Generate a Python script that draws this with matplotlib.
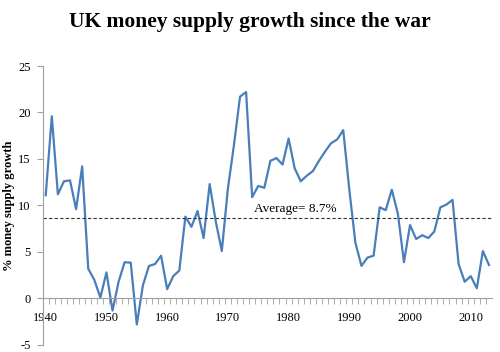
import numpy as np
import matplotlib
matplotlib.use("Agg")
import matplotlib.pyplot as plt

years = np.arange(1940, 2014)
growth = [
    11.1, 19.6, 11.2, 12.6, 12.7, 9.6, 14.2, 3.2, 2.0, 0.1,
    2.8, -1.3, 1.8, 3.9, 3.85, -2.8, 1.4, 3.5, 3.7, 4.6,
    1.0, 2.4, 3.0, 8.8, 7.7, 9.4, 6.5, 12.3, 8.3, 5.1,
    11.8, 16.5, 21.7, 22.2, 10.9, 12.1, 11.9, 14.8, 15.1, 14.4,
    17.2, 14.0, 12.6, 13.2, 13.7, 14.8, 15.8, 16.7, 17.1, 18.1,
    11.7, 6.0, 3.5, 4.4, 4.6, 9.8, 9.5, 11.7, 9.1, 3.9,
    7.9, 6.4, 6.8, 6.5, 7.2, 9.8, 10.1, 10.6, 3.7, 1.8,
    2.4, 1.1, 5.1, 3.6,
]
average = 8.7
x_labels = [1940, 1950, 1960, 1970, 1980, 1990, 2000, 2010]
y_ticks = [-5, 0, 5, 10, 15, 20, 25]

plt.rcParams['font.family'] = ['Liberation Serif', 'DejaVu Serif']

fig = plt.figure(figsize=(5, 3.52), dpi=100)
ax = fig.add_axes([0.086, 0.02, 0.898, 0.7925])

ax.plot(years, growth, color='#4a7ebb', lw=1.6)
ax.axhline(average, color='#333333', lw=0.8, ls=(0, (3, 2)))
ax.text(1974.3, average + 0.3, "Average= 8.7%", fontsize=9.5, ha='left', va='bottom')

ax.set_xlim(1939.55, 2013.5)
ax.set_ylim(-5, 25)

for s in ['top', 'right']:
    ax.spines[s].set_visible(False)
ax.spines['bottom'].set_position(('data', 0))
ax.spines['bottom'].set_color('#a0a0a0')
ax.spines['left'].set_color('#a0a0a0')

ax.set_xticks(x_labels)
ax.set_xticklabels([str(v) for v in x_labels], fontsize=9)
ax.set_xticks(np.arange(1940.5, 2013.5, 1), minor=True)
ax.tick_params(axis='x', which='major', length=0, pad=10)
ax.tick_params(axis='x', which='minor', length=4, color='#a0a0a0', direction='out')
ax.set_yticks(y_ticks)
ax.set_yticklabels([str(v) for v in y_ticks], fontsize=9)
ax.tick_params(axis='y', length=4, color='#a0a0a0', direction='out', pad=5)

ax.set_ylabel("% money supply growth", fontsize=9, fontweight='bold')
ax.yaxis.set_label_coords(-0.062, 0.5)

fig.text(0.5, 0.937, "UK money supply growth since the war", ha='center', va='center',
         fontsize=15.5, fontweight='bold')

fig.savefig("out.png", dpi=100)
